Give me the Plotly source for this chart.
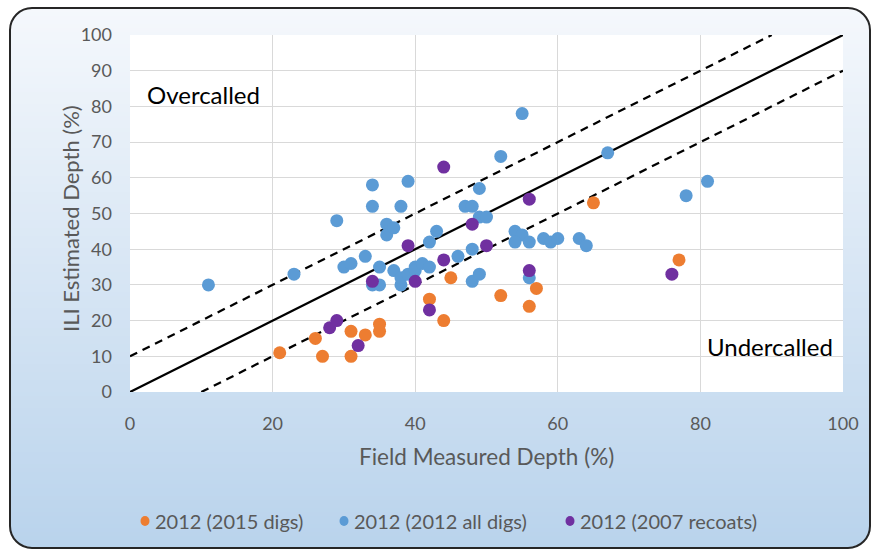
import math
import plotly.graph_objects as go

# Field measured depth (%) vs ILI estimated depth (%)
digs2015_field = [21, 26, 27, 31, 31, 33, 35, 35, 42, 44, 45, 52, 56, 57, 65, 77]
digs2015_ili = [11, 15, 10, 17, 10, 16, 19, 17, 26, 20, 32, 27, 24, 29, 53, 37]

alldigs2012_field = [11, 23, 29, 30, 31, 33, 34, 34, 34, 35, 35, 36, 36, 37, 37, 38, 38, 38,
                     39, 39, 40, 40, 41, 42, 42, 43, 46, 47, 48, 48, 48, 49, 49, 49, 50, 52,
                     54, 55, 54, 56, 55, 56, 58, 59, 60, 63, 64, 67, 78, 81]
alldigs2012_ili = [30, 33, 48, 35, 36, 38, 58, 52, 30, 30, 35, 47, 44, 46, 34, 52, 30, 32,
                   59, 33, 35, 34, 36, 35, 42, 45, 38, 52, 52, 40, 31, 33, 57, 49, 49, 66,
                   45, 44, 42, 42, 78, 32, 43, 42, 43, 43, 41, 67, 55, 59]

recoats2007_field = [28, 29, 32, 34, 39, 40, 42, 44, 44, 48, 50, 56, 56, 76]
recoats2007_ili = [18, 20, 13, 31, 41, 31, 23, 63, 37, 47, 41, 54, 34, 33]

series_names = ["2012 (2015 digs)", "2012 (2012 all digs)", "2012 (2007 recoats)"]
series_colors = ["#ED7D31", "#5B9BD5", "#7030A0"]

# reference lines: 1:1 and +/-10 % bands
ref_x = [0, 100]
band_offset = 10

W, H = 875, 552
ML, MR, MT, MB = 130, 32, 35, 160
PW, PH = W - ML - MR, H - MT - MB


def px(x):
    return (x - ML) / PW


def py(y):
    return (H - MB - y) / PH


fig = go.Figure()

# 1:1 line and the two dashed band lines
fig.add_trace(go.Scatter(x=ref_x, y=ref_x, mode="lines",
                         line=dict(color="black", width=2.25),
                         showlegend=False, hoverinfo="skip"))
fig.add_trace(go.Scatter(x=[0, 100 - band_offset], y=[band_offset, 100], mode="lines",
                         line=dict(color="black", width=2.25, dash="8px,6px"),
                         showlegend=False, hoverinfo="skip"))
fig.add_trace(go.Scatter(x=[band_offset, 100], y=[0, 100 - band_offset], mode="lines",
                         line=dict(color="black", width=2.25, dash="8px,6px"),
                         showlegend=False, hoverinfo="skip"))

for name, xs, ys, col in zip(series_names,
                             [digs2015_field, alldigs2012_field, recoats2007_field],
                             [digs2015_ili, alldigs2012_ili, recoats2007_ili],
                             series_colors):
    fig.add_trace(go.Scatter(x=xs, y=ys, mode="markers", name=name,
                             marker=dict(color=col, size=13, line=dict(width=0)),
                             showlegend=False))

# background: rounded panel with a vertical white-to-blue gradient
x0, x1, y0, y1, r = 10, 870, 8, 548, 22
top_rgb = (0xF5, 0xF8, 0xFC)
bot_rgb = (0xB9, 0xD3, 0xEC)


def inset(y):
    if y < y0 + r:
        d = r - (y - y0)
    elif y > y1 - r:
        d = (y - (y1 - r))
    else:
        return 0.0
    d = min(d, r)
    return r - math.sqrt(max(r * r - d * d, 0))


shapes = []
n = 135
for i in range(n):
    ya = y0 + (y1 - y0) * i / n
    yb = y0 + (y1 - y0) * (i + 1) / n + 0.6
    yb = min(yb, y1)
    t = (i + 0.5) / n
    c = tuple(round(a + (b - a) * t) for a, b in zip(top_rgb, bot_rgb))
    ia, ib = inset(ya), inset(yb)
    path = (f"M{px(x0 + ia)},{py(ya)} L{px(x1 - ia)},{py(ya)} "
            f"L{px(x1 - ib)},{py(yb)} L{px(x0 + ib)},{py(yb)} Z")
    shapes.append(dict(type="path", xref="paper", yref="paper", path=path,
                       fillcolor=f"rgb{c}", line=dict(width=0), layer="below"))

# white plotting area
shapes.append(dict(type="rect", xref="paper", yref="paper", x0=0, x1=1, y0=0, y1=1,
                   fillcolor="white", line=dict(width=0), layer="below"))

# rounded border
k = 0.5523 * r
border = (f"M{px(x0 + r)},{py(y0)} L{px(x1 - r)},{py(y0)} "
          f"C{px(x1 - r + k)},{py(y0)} {px(x1)},{py(y0 + r - k)} {px(x1)},{py(y0 + r)} "
          f"L{px(x1)},{py(y1 - r)} "
          f"C{px(x1)},{py(y1 - r + k)} {px(x1 - r + k)},{py(y1)} {px(x1 - r)},{py(y1)} "
          f"L{px(x0 + r)},{py(y1)} "
          f"C{px(x0 + r - k)},{py(y1)} {px(x0)},{py(y1 - r + k)} {px(x0)},{py(y1 - r)} "
          f"L{px(x0)},{py(y0 + r)} "
          f"C{px(x0)},{py(y0 + r - k)} {px(x0 + r - k)},{py(y0)} {px(x0 + r)},{py(y0)} Z")
shapes.append(dict(type="path", xref="paper", yref="paper", path=border,
                   line=dict(color="#262626", width=2), layer="above"))

FONT = "Lato"
GREY = "#595959"

# legend drawn as a row of swatches with labels beneath the chart
legend_swatch_x = [145, 344, 570]
legend_y = 521
annotations = []
for name, col, sx in zip(series_names, series_colors, legend_swatch_x):
    shapes.append(dict(type="circle", xref="paper", yref="paper",
                       xsizemode="pixel", ysizemode="pixel",
                       xanchor=px(sx), yanchor=py(legend_y),
                       x0=-4.5, x1=4.5, y0=-5, y1=5,
                       fillcolor=col, line=dict(width=0), layer="above"))
    annotations.append(dict(text=name, x=px(sx + 8), y=py(legend_y), xref="paper",
                            yref="paper", xanchor="left", yanchor="middle",
                            showarrow=False, font=dict(size=20, color=GREY, family=FONT)))

annotations += [
    dict(text="Overcalled", x=px(145), y=py(95), xref="paper", yref="paper",
         xanchor="left", yanchor="middle", showarrow=False,
         font=dict(size=24, color="black", family=FONT)),
    dict(text="Undercalled", x=px(835), y=py(346), xref="paper", yref="paper",
         xanchor="right", yanchor="middle", showarrow=False,
         font=dict(size=24, color="black", family=FONT)),
    dict(text="Field Measured Depth (%)", x=px(486), y=py(456), xref="paper", yref="paper",
         xanchor="center", yanchor="middle", showarrow=False,
         font=dict(size=22.5, color=GREY, family=FONT)),
    dict(text="ILI Estimated Depth (%)", x=px(71), y=py(219), xref="paper", yref="paper",
         xanchor="center", yanchor="middle", showarrow=False, textangle=-90,
         font=dict(size=22, color=GREY, family=FONT)),
]

fig.update_layout(
    width=W, height=H,
    margin=dict(l=ML, r=MR, t=MT, b=MB, pad=0),
    paper_bgcolor="white", plot_bgcolor="white",
    shapes=shapes,
    annotations=annotations,
    font=dict(family=FONT, color=GREY),
    showlegend=False,
)
fig.update_xaxes(range=[0, 100], dtick=20, tick0=0, showgrid=True, gridcolor="#D9D9D9",
                 gridwidth=1, zeroline=False, showline=False, ticks="",
                 tickfont=dict(size=18, color=GREY), ticklabelstandoff=19)
fig.update_yaxes(range=[0, 100], dtick=10, tick0=0, showgrid=True, gridcolor="#D9D9D9",
                 gridwidth=1, zeroline=False, showline=False, ticks="",
                 tickfont=dict(size=18, color=GREY), ticklabelstandoff=17)

fig.write_html("out.html")
